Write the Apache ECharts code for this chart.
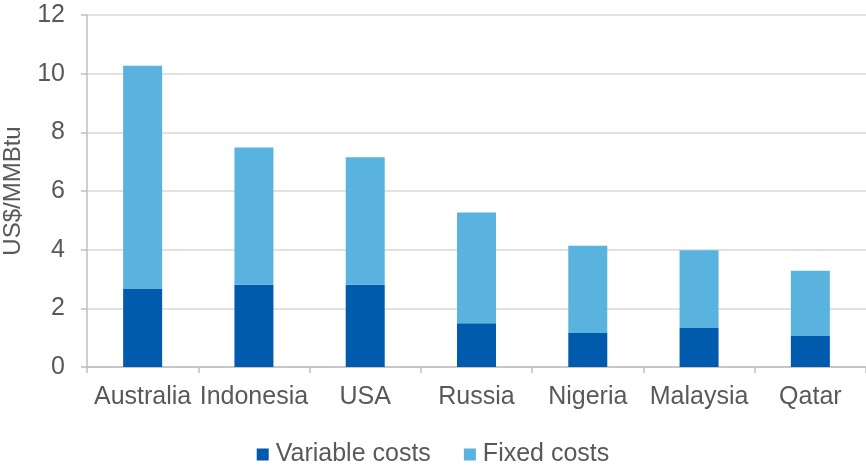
<!DOCTYPE html>
<html><head><meta charset="utf-8">
<script src="https://cdn.jsdelivr.net/npm/echarts@6/dist/echarts.min.js"></script>
<style>html,body{margin:0;padding:0;background:#fff}#c{width:866px;height:466px}</style>
</head><body><div id="c"></div>
<script>
const categories = ['Australia','Indonesia','USA','Russia','Nigeria','Malaysia','Qatar'];
const variableCosts = [2.68, 2.80, 2.80, 1.49, 1.16, 1.33, 1.06];
const fixedCosts = [7.59, 4.68, 4.35, 3.78, 2.97, 2.65, 2.22];
const yTicks = [0,2,4,6,8,10,12];

const chart = echarts.init(document.getElementById('c'));
const txt = '#595959';
chart.setOption({
  animation:false,
  textStyle:{fontFamily:'Liberation Sans, Arial, sans-serif'},
  grid:{left:87,top:15,right:0,bottom:99,containLabel:false,outerBoundsMode:'none'},
  legend:{
    top:437,left:'center',itemWidth:12,itemHeight:12,itemGap:33,icon:'rect',
    textStyle:{color:txt,fontSize:25,padding:[0,0,0,2],fontFamily:'Liberation Sans, Arial, sans-serif'},
    data:['Variable costs','Fixed costs']
  },
  xAxis:{
    type:'category',data:categories,
    axisLine:{lineStyle:{color:'#bfbfbf',width:1.5}},
    axisTick:{show:true,alignWithLabel:false,length:6,lineStyle:{color:'#bfbfbf',width:1.5}},
    axisLabel:{color:txt,fontSize:25,margin:18,interval:0,hideOverlap:false}
  },
  yAxis:{
    type:'value',min:yTicks[0],max:yTicks[yTicks.length-1],interval:2,
    name:'US$/MMBtu',nameLocation:'middle',nameGap:62,
    nameTextStyle:{color:txt,fontSize:24},
    axisLine:{show:true,lineStyle:{color:'#bfbfbf',width:1.5}},
    axisTick:{show:true,length:6,lineStyle:{color:'#bfbfbf',width:1.5}},
    axisLabel:{color:txt,fontSize:25,margin:22},
    splitLine:{lineStyle:{color:'#d9d9d9',width:1.5}}
  },
  series:[
    {name:'Variable costs',type:'bar',stack:'t',data:variableCosts,barWidth:39,itemStyle:{color:'#005BAC'}},
    {name:'Fixed costs',type:'bar',stack:'t',data:fixedCosts,barWidth:39,itemStyle:{color:'#5AB2DE'}}
  ]
});
</script></body></html>
